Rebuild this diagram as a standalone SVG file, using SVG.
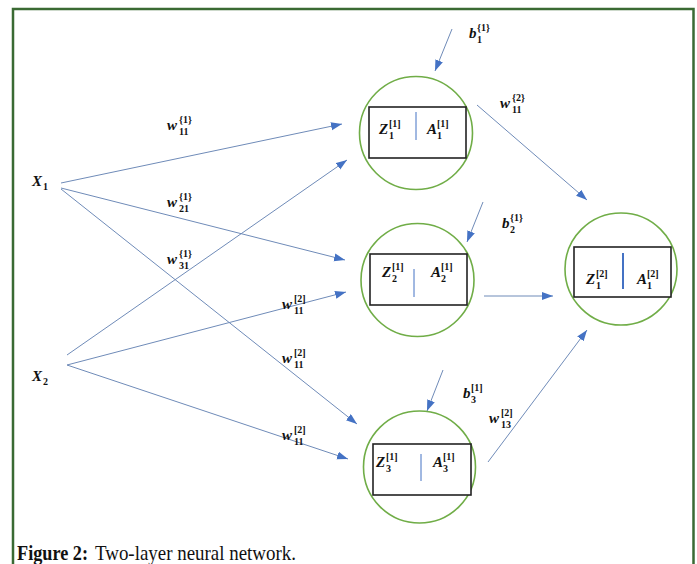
<svg xmlns="http://www.w3.org/2000/svg" width="697" height="564" viewBox="0 0 697 564">
<defs>
<style>
.c{fill:#fff;stroke:#70AD47;stroke-width:1.6}
.r{fill:#fff;stroke:#222;stroke-width:1.6}
.d{stroke:#4472C4;stroke-width:1}
.e{stroke:#6f8bb8;stroke-width:1;fill:none}
.m{font-family:"Liberation Serif",serif;font-weight:bold;font-style:italic;font-size:15px;fill:#111}
.s{font-family:"Liberation Serif",serif;font-weight:bold;font-size:10px;fill:#111}
.cap{font-family:"Liberation Serif",serif;font-size:22px;fill:#111}
</style>
<marker id="ah" markerUnits="userSpaceOnUse" markerWidth="12" markerHeight="10" refX="11" refY="4" orient="auto">
<path d="M0,0 L11,4 L0,8 Z" fill="#4472C4"/>
</marker>
</defs>
<rect width="697" height="564" fill="#fff"/>
<path d="M13,564 V9 H693.5 V564" fill="none" stroke="#3a6a33" stroke-width="2.5"/>

<g id="connectors">
<line class="e" x1="61" y1="183" x2="342" y2="124" marker-end="url(#ah)"/>
<line class="e" x1="61" y1="188" x2="345" y2="260" marker-end="url(#ah)"/>
<line class="e" x1="61" y1="189" x2="357" y2="424" marker-end="url(#ah)"/>
<line class="e" x1="67" y1="355" x2="347" y2="160" marker-end="url(#ah)"/>
<line class="e" x1="67" y1="365" x2="346" y2="292" marker-end="url(#ah)"/>
<line class="e" x1="67" y1="365" x2="348" y2="459" marker-end="url(#ah)"/>
<line class="e" x1="477" y1="105" x2="587" y2="200" marker-end="url(#ah)"/>
<line class="e" x1="484" y1="296" x2="553" y2="296" marker-end="url(#ah)"/>
<line class="e" x1="488" y1="462" x2="587" y2="330" marker-end="url(#ah)"/>
<line class="e" x1="452" y1="29" x2="435" y2="71" marker-end="url(#ah)"/>
<line class="e" x1="483" y1="202" x2="467" y2="242" marker-end="url(#ah)"/>
<line class="e" x1="443" y1="370" x2="427" y2="411" marker-end="url(#ah)"/>
</g>

<g id="x1"><text class="m" x="32" y="186">X</text><text class="s" x="43" y="190">1</text></g>
<g id="x2"><text class="m" x="32" y="381">X</text><text class="s" x="43" y="385">2</text></g>

<g id="n1">
<circle class="c" cx="416" cy="133" r="56.5"/>
<rect class="r" x="369" y="107" width="97" height="51"/>
<line class="d" x1="416" y1="112" x2="416" y2="140"/>
<text class="m" x="379" y="134">Z</text><text class="s" x="389" y="127">[1]</text><text class="s" x="389" y="139">1</text>
<text class="m" x="427" y="134">A</text><text class="s" x="437" y="127">[1]</text><text class="s" x="437" y="139">1</text>
</g>
<g id="n2">
<circle class="c" cx="417.5" cy="280" r="56.5"/>
<rect class="r" x="370" y="254" width="97" height="51"/>
<line class="d" x1="414" y1="269" x2="414" y2="297"/>
<text class="m" x="382" y="277">Z</text><text class="s" x="392" y="270">[1]</text><text class="s" x="392" y="282">2</text>
<text class="m" x="431" y="277">A</text><text class="s" x="441" y="270">[1]</text><text class="s" x="441" y="282">2</text>
</g>
<g id="n3">
<circle class="c" cx="419.5" cy="467" r="56"/>
<rect class="r" x="373" y="444" width="98" height="51"/>
<line class="d" x1="421" y1="454" x2="421" y2="481"/>
<text class="m" x="376" y="467">Z</text><text class="s" x="386" y="460">[1]</text><text class="s" x="386" y="472">3</text>
<text class="m" x="433" y="467">A</text><text class="s" x="443" y="460">[1]</text><text class="s" x="443" y="472">3</text>
</g>
<g id="n4">
<circle class="c" cx="621" cy="269" r="56"/>
<rect class="r" x="574" y="247" width="97" height="50"/>
<line x1="623" y1="253" x2="623" y2="289" stroke="#4472C4" stroke-width="2"/>
<text class="m" x="586" y="284">Z</text><text class="s" x="596" y="277">[2]</text><text class="s" x="596" y="289">1</text>
<text class="m" x="637" y="284">A</text><text class="s" x="647" y="277">[2]</text><text class="s" x="647" y="289">1</text>
</g>

<g id="labels">
<text class="m" x="167" y="130">w</text><text class="s" x="179" y="123">{1}</text><text class="s" x="179" y="135">11</text>
<text class="m" x="167" y="207">w</text><text class="s" x="179" y="200">{1}</text><text class="s" x="179" y="212">21</text>
<text class="m" x="167" y="264">w</text><text class="s" x="179" y="257">{1}</text><text class="s" x="179" y="269">31</text>
<text class="m" x="282" y="309">w</text><text class="s" x="294" y="302">[2]</text><text class="s" x="294" y="314">11</text>
<text class="m" x="282" y="363">w</text><text class="s" x="294" y="356">[2]</text><text class="s" x="294" y="368">11</text>
<text class="m" x="282" y="440">w</text><text class="s" x="294" y="433">[2]</text><text class="s" x="294" y="445">11</text>
<text class="m" x="500" y="108">w</text><text class="s" x="512" y="101">{2}</text><text class="s" x="512" y="113">11</text>
<text class="m" x="489" y="423">w</text><text class="s" x="501" y="416">[2]</text><text class="s" x="501" y="428">13</text>
<text class="m" x="469" y="38">b</text><text class="s" x="477" y="31">{1}</text><text class="s" x="477" y="43">1</text>
<text class="m" x="502" y="228">b</text><text class="s" x="510" y="221">{1}</text><text class="s" x="510" y="233">2</text>
<text class="m" x="463" y="398">b</text><text class="s" x="471" y="391">[1]</text><text class="s" x="471" y="403">3</text>
</g>

<text class="cap" x="17" y="560" font-weight="bold" textLength="71" lengthAdjust="spacingAndGlyphs">Figure 2:</text>
<text class="cap" x="95" y="560" textLength="201" lengthAdjust="spacingAndGlyphs">Two-layer neural network.</text>
</svg>
